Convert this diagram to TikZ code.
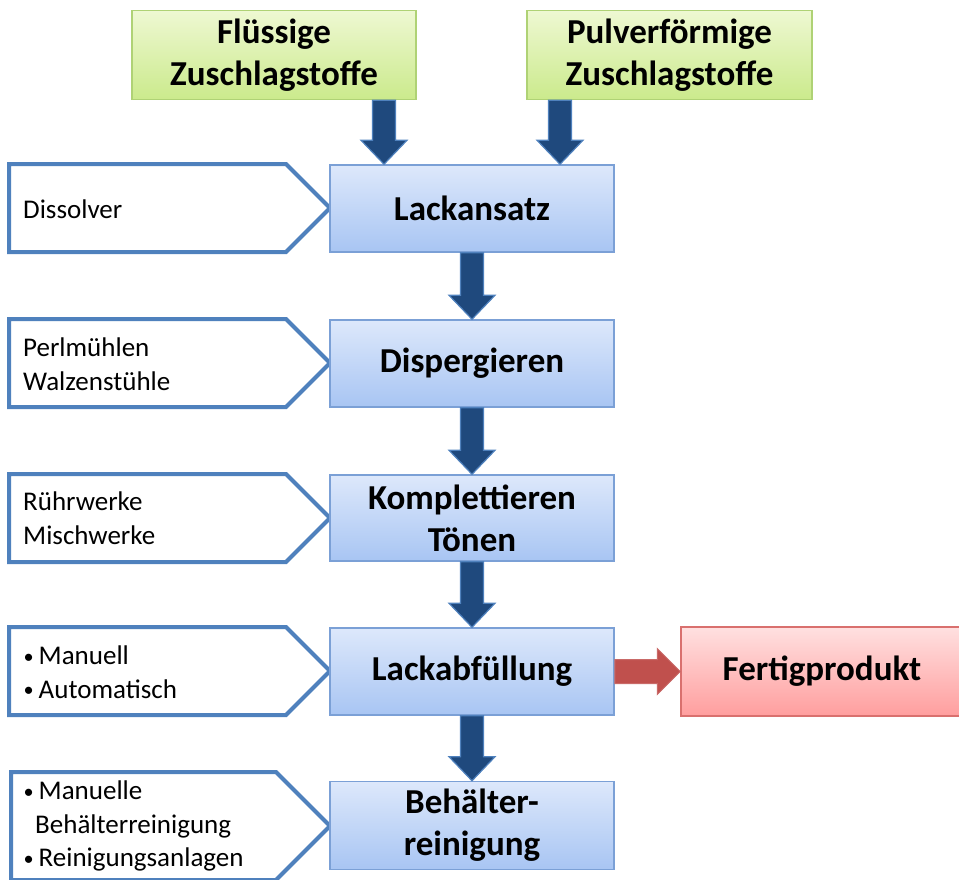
\documentclass[tikz,border=0pt]{standalone}
\usepackage{fontspec}
\setmainfont{Carlito}
\usetikzlibrary{calc}
\definecolor{bxtop}{HTML}{DDE8FB}
\definecolor{bxbot}{HTML}{A8C5F3}
\definecolor{bxline}{HTML}{7BA0D6}
\definecolor{grtop}{HTML}{EEF8D2}
\definecolor{grbot}{HTML}{CBEA8C}
\definecolor{grline}{HTML}{AFD275}
\definecolor{rdtop}{HTML}{FFE0E0}
\definecolor{rdbot}{HTML}{FF9E9E}
\definecolor{rdline}{HTML}{D9706E}
\definecolor{navy}{HTML}{1F497D}
\definecolor{navyedge}{HTML}{4F81BD}
\definecolor{redarr}{HTML}{C0504D}
\definecolor{sideline}{HTML}{4F81BD}
\tikzset{
  boxbase/.style={rectangle, line width=1.5pt, align=center,
    font=\fontsize{35}{42}\bfseries\selectfont, inner sep=0pt},
  bluebox/.style={boxbase, draw=bxline, top color=bxtop, bottom color=bxbot,
    minimum width=284pt, minimum height=87pt},
  greenbox/.style={boxbase, draw=grline, top color=grtop, bottom color=grbot,
    minimum width=284pt, minimum height=89pt},
  redbox/.style={boxbase, draw=rdline, top color=rdtop, bottom color=rdbot,
    minimum width=282pt, minimum height=89pt},
  sidebox/.style={draw=sideline, line width=4pt, fill=white, line join=miter},
  sidetext/.style={anchor=west, inner sep=0pt, align=left,
    font=\fontsize{27}{33.5}\selectfont},
  darrow/.style={fill=navy, draw=navyedge, line width=1.2pt, line join=miter},
  rarrow/.style={fill=redarr, draw=redarr!85!white, line width=1pt, line join=miter},
}
\newcommand\blockdown[2]{%
  \draw[darrow] let \p1=(#1), \p2=(#2) in
    (\x2-11.5pt,\y1) -- (\x2-11.5pt,\y2+24pt) -- (\x2-23pt,\y2+24pt) -- (\x2,\y2)
    -- (\x2+23pt,\y2+24pt) -- (\x2+11.5pt,\y2+24pt) -- (\x2+11.5pt,\y1) -- cycle;}
\newcommand\blockright[2]{%
  \draw[rarrow] let \p1=(#1), \p2=(#2) in
    (\x1,\y2+12pt) -- (\x2-23pt,\y2+12pt) -- (\x2-23pt,\y2+23pt) -- (\x2,\y2)
    -- (\x2-23pt,\y2-23pt) -- (\x2-23pt,\y2-12pt) -- (\x1,\y2-12pt) -- cycle;}
\newcommand\bul{\makebox[16.5pt][l]{\hspace*{1.5pt}\raisebox{1.5pt}{\scalebox{0.75}{•}}}}
\begin{document}
\begin{tikzpicture}[x=1pt,y=-1pt]
\useasboundingbox (0,0) rectangle (959,879);

% side pentagons
\draw[sidebox] (9,164) -- (286,164) -- (330,208) -- (286,252) -- (9,252) -- cycle;
\draw[sidebox] (9,319) -- (286,319) -- (330,363) -- (286,407) -- (9,407) -- cycle;
\draw[sidebox] (9,474) -- (286,474) -- (330,518) -- (286,562) -- (9,562) -- cycle;
\draw[sidebox] (9,627) -- (286,627) -- (330,671) -- (286,715) -- (9,715) -- cycle;
\draw[sidebox] (11,772) -- (276,772) -- (330,826) -- (276,880) -- (11,880) -- cycle;

\node[sidetext] (s1) at (23,209) {Dissolver};
\node[sidetext] (s2) at (23,364) {Perlmühlen\\Walzenstühle};
\node[sidetext] (s3) at (23,518) {Rührwerke\\Mischwerke};
\node[sidetext] (s4) at (22,672) {\bul Manuell\\\bul Automatisch};
\node[sidetext] (s5) at (22,826) {\bul Manuelle\\\hspace*{13pt}Behälterreinigung\\\bul Reinigungsanlagen};

% main boxes
\node[greenbox] (flu) at (274,55) {Flüssige\\Zuschlagstoffe};
\node[greenbox, minimum width=285pt] (pul) at (669.5,55) {Pulverförmige\\Zuschlagstoffe};
\node[bluebox] (lack) at (472,208.5) {Lackansatz};
\node[bluebox] (disp) at (472,363.5) {Dispergieren};
\node[bluebox, minimum height=86pt] (komp) at (472,518) {Komplettieren\\Tönen};
\node[bluebox] (abf) at (472,671.5) {Lackabfüllung};
\node[bluebox, minimum height=88pt] (beh) at (472,825.5) {Behälter-\\reinigung};
\node[redbox] (fert) at (822,671.5) {Fertigprodukt};

% arrows
\coordinate (a1) at ($(lack.north)+(-88,0)$);
\coordinate (a2) at ($(lack.north)+(88,0)$);
\blockdown{flu.south}{a1}
\blockdown{pul.south}{a2}
\blockdown{lack.south}{disp.north}
\blockdown{disp.south}{komp.north}
\blockdown{komp.south}{abf.north}
\blockdown{abf.south}{beh.north}
\blockright{abf.east}{fert.west}
\end{tikzpicture}
\end{document}
